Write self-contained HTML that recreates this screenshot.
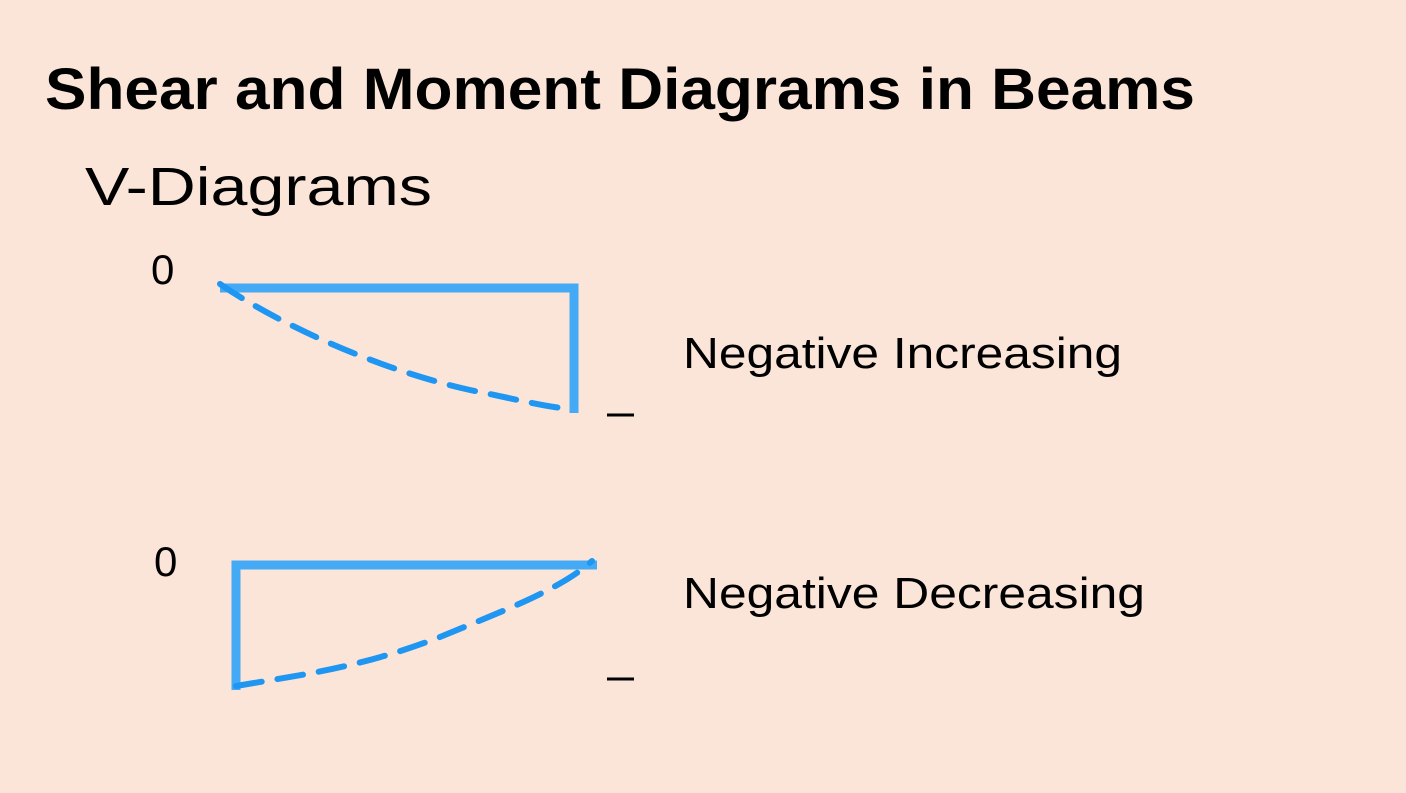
<!DOCTYPE html>
<html><head><meta charset="utf-8"><style>
html,body{margin:0;padding:0;background:#fae5d8;}
svg{display:block;}
text{font-family:"Liberation Sans",sans-serif;fill:#000;}
</style></head><body>
<svg width="1406" height="793" viewBox="0 0 1406 793">
<rect width="1406" height="793" fill="#fae5d8"/>
<text x="45" y="109" font-size="58" font-weight="bold" textLength="1150" lengthAdjust="spacingAndGlyphs">Shear and Moment Diagrams in Beams</text>
<text x="85" y="205" font-size="54" textLength="347" lengthAdjust="spacingAndGlyphs">V-Diagrams</text>
<text x="151" y="284" font-size="42">0</text>
<text x="154" y="576" font-size="42">0</text>
<line x1="607" y1="415" x2="634" y2="415" stroke="#000" stroke-width="3"/>
<line x1="607" y1="679" x2="634" y2="679" stroke="#000" stroke-width="3"/>
<text x="683" y="368" font-size="44" textLength="439" lengthAdjust="spacingAndGlyphs">Negative Increasing</text>
<text x="683" y="608" font-size="44" textLength="462" lengthAdjust="spacingAndGlyphs">Negative Decreasing</text>
<polyline points="220,288 574,288 574,413" fill="none" stroke="#45aaf5" stroke-width="9"/>
<path d="M220,284 C280,325 380,370 470,390 C520,400 550,408 573,409" fill="none" stroke="#1e96f2" stroke-width="6" stroke-linecap="round" stroke-dasharray="26,16"/>
<polyline points="597,565 236,565 236,690" fill="none" stroke="#45aaf5" stroke-width="9"/>
<path d="M236,686 C300,675 360,668 440,637 C500,612 560,590 592,561" fill="none" stroke="#1e96f2" stroke-width="6" stroke-linecap="round" stroke-dasharray="26,16"/>
</svg>
</body></html>
